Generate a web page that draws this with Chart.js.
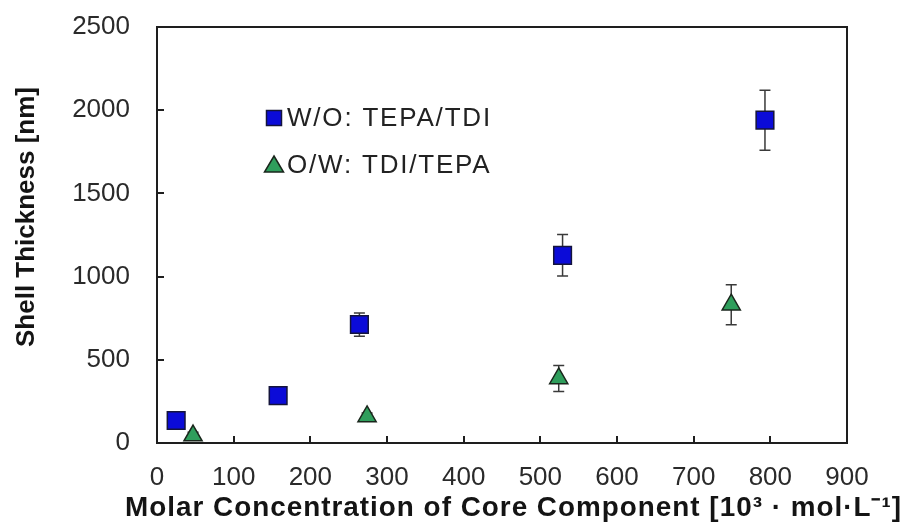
<!DOCTYPE html>
<html>
<head>
<meta charset="utf-8">
<script src="https://cdn.jsdelivr.net/npm/chart.js@4.4.1/dist/chart.umd.min.js"></script>
<style>
  body { margin: 0; background: #fff; }
  #wrap { width: 904px; height: 526px; position: relative; }
</style>
</head>
<body>
<div id="wrap"><canvas id="chart1"></canvas></div>
<script>
// W/O: TEPA/TDI
var woX = [25, 158, 264, 529, 793];
var woY = [135, 285, 712, 1128, 1940];
var woErr = [20, 25, 70, 125, 180];

// O/W: TDI/TEPA
var owX = [47, 274, 524, 749];
var owY = [45, 160, 388, 831];
var owErr = [20, 20, 78, 120];

var seriesLabels = ['W/O: TEPA/TDI', 'O/W: TDI/TEPA'];
var xTicks = [0, 100, 200, 300, 400, 500, 600, 700, 800, 900];
var yTicks = [0, 500, 1000, 1500, 2000, 2500];

function toPoints(xs, ys) {
  return xs.map(function (x, i) { return { x: x, y: ys[i] }; });
}

// the original figure is a bit stretched, so nudge the axis titles
// (extra: widen the box the title may use, dy: shift it)
function tweakTitle(scale, spacing, extraL, extraR, dy) {
  if (scale._titleTweaked) return;
  scale._titleTweaked = true;
  var orig = scale.drawTitle;
  scale.drawTitle = function () {
    var c = this.ctx, l = this.left, r = this.right;
    c.save();
    if ('letterSpacing' in c) c.letterSpacing = spacing;
    c.translate(0, dy);
    this.left = l - extraL;
    this.right = r + extraR;
    orig.apply(this, arguments);
    this.left = l;
    this.right = r;
    c.restore();
  };
}

// box round the plot
var framePlugin = {
  id: 'frame',
  afterDraw: function (chart) {
    var a = chart.chartArea, ctx = chart.ctx;
    ctx.save();
    ctx.strokeStyle = '#1e1e1e';
    ctx.lineWidth = 2;
    ctx.strokeRect(a.left, a.top, a.right - a.left, a.bottom - a.top);
    ctx.restore();
  }
};

// vertical error bars, drawn under the markers
var errorBarPlugin = {
  id: 'errorBars',
  beforeDatasetsDraw: function (chart) {
    var ctx = chart.ctx, xs = chart.scales.x, ys = chart.scales.y;
    ctx.save();
    ctx.strokeStyle = '#3a3a3a';
    ctx.lineWidth = 1.5;
    chart.data.datasets.forEach(function (ds) {
      ds.data.forEach(function (p, i) {
        var e = ds.errors[i];
        var px = xs.getPixelForValue(p.x);
        var top = ys.getPixelForValue(p.y + e);
        var bot = ys.getPixelForValue(p.y - e);
        ctx.beginPath();
        ctx.moveTo(px, top); ctx.lineTo(px, bot);
        ctx.moveTo(px - 5.5, top); ctx.lineTo(px + 5.5, top);
        ctx.moveTo(px - 5.5, bot); ctx.lineTo(px + 5.5, bot);
        ctx.stroke();
      });
    });
    ctx.restore();
  }
};

// legend sitting inside the plot, top left
var insideLegend = {
  id: 'insideLegend',
  afterDraw: function (chart) {
    var a = chart.chartArea, ctx = chart.ctx;
    var mx = a.left + 117, tx = a.left + 130;
    var rows = [a.top + 91, a.top + 138];
    ctx.save();
    ctx.font = '26px "Liberation Sans", Arial, sans-serif';
    ctx.textBaseline = 'middle';
    if ('letterSpacing' in ctx) ctx.letterSpacing = '1.8px';
    chart.data.datasets.forEach(function (ds, i) {
      var y = rows[i];
      ctx.fillStyle = ds.backgroundColor;
      ctx.strokeStyle = ds.borderColor;
      ctx.lineWidth = 1.5;
      ctx.beginPath();
      if (ds.pointStyle === 'rect') {
        ctx.rect(mx - 7.5, y - 7.5, 15, 15);
      } else {
        ctx.moveTo(mx, y - 9);
        ctx.lineTo(mx + 9.5, y + 7);
        ctx.lineTo(mx - 9.5, y + 7);
        ctx.closePath();
      }
      ctx.fill();
      ctx.stroke();
      ctx.fillStyle = '#222';
      ctx.fillText(ds.label, tx, y + 1);
    });
    ctx.restore();
  }
};

var ctx = document.getElementById('chart1').getContext('2d');
var myChart = new Chart(ctx, {
  type: 'scatter',
  data: {
    datasets: [
      {
        label: seriesLabels[0],
        data: toPoints(woX, woY),
        errors: woErr,
        pointStyle: 'rect',
        pointRadius: 12.5,
        pointHoverRadius: 12.5,
        backgroundColor: '#0b0bd8',
        borderColor: '#14143c',
        borderWidth: 1.5
      },
      {
        label: seriesLabels[1],
        data: toPoints(owX, owY),
        errors: owErr,
        pointStyle: 'triangle',
        pointRadius: 10.5,
        pointHoverRadius: 10.5,
        backgroundColor: '#2f9e5c',
        borderColor: '#1a261c',
        borderWidth: 1.5
      }
    ]
  },
  options: {
    responsive: true,
    maintainAspectRatio: false,
    animation: false,
    layout: { padding: { top: 27, right: 57, left: 0, bottom: 0 } },
    plugins: {
      legend: { display: false },
      tooltip: { enabled: false }
    },
    scales: {
      x: {
        type: 'linear',
        min: 0,
        max: 900,
        afterBuildTicks: function (scale) {
          scale.ticks = xTicks.map(function (v) { return { value: v }; });
        },
        afterFit: function (scale) {
          scale.height = 83;
          scale.paddingRight = 0;
          tweakTitle(scale, '1px', 32, 55, 0);
        },
        grid: { drawOnChartArea: false, tickLength: -7, color: '#1e1e1e', lineWidth: 2 },
        border: { color: '#1e1e1e', width: 2 },
        ticks: {
          autoSkip: false,
          maxRotation: 0,
          padding: 26,
          color: '#2a2a2a',
          font: { family: '"Liberation Sans", Arial, sans-serif', size: 26 },
          callback: function (v) { return String(v); }
        },
        title: {
          display: true,
          text: 'Molar Concentration of Core Component [10\u00b3 \u00b7 mol\u00b7L\u207b\u00b9]',
          color: '#141414',
          padding: { top: 0, bottom: 1 },
          font: { family: '"Liberation Sans", Arial, sans-serif', size: 28, weight: 'bold' }
        }
      },
      y: {
        type: 'linear',
        min: 0,
        max: 2500,
        afterBuildTicks: function (scale) {
          scale.ticks = yTicks.map(function (v) { return { value: v }; });
        },
        afterFit: function (scale) {
          scale.width = 157;
          scale.paddingTop = 0;
          scale.paddingBottom = 0;
          tweakTitle(scale, '0px', 0, 0, -18);
        },
        grid: { drawOnChartArea: false, tickLength: -7, color: '#1e1e1e', lineWidth: 2 },
        border: { color: '#1e1e1e', width: 2 },
        ticks: {
          padding: 34,
          color: '#2a2a2a',
          font: { family: '"Liberation Sans", Arial, sans-serif', size: 26 },
          callback: function (v) { return String(v); }
        },
        title: {
          display: true,
          text: 'Shell Thickness [nm]',
          color: '#141414',
          padding: { top: 11, bottom: 0 },
          font: { family: '"Liberation Sans", Arial, sans-serif', size: 26, weight: 'bold' }
        }
      }
    }
  },
  plugins: [errorBarPlugin, framePlugin, insideLegend]
});
</script>
</body>
</html>
